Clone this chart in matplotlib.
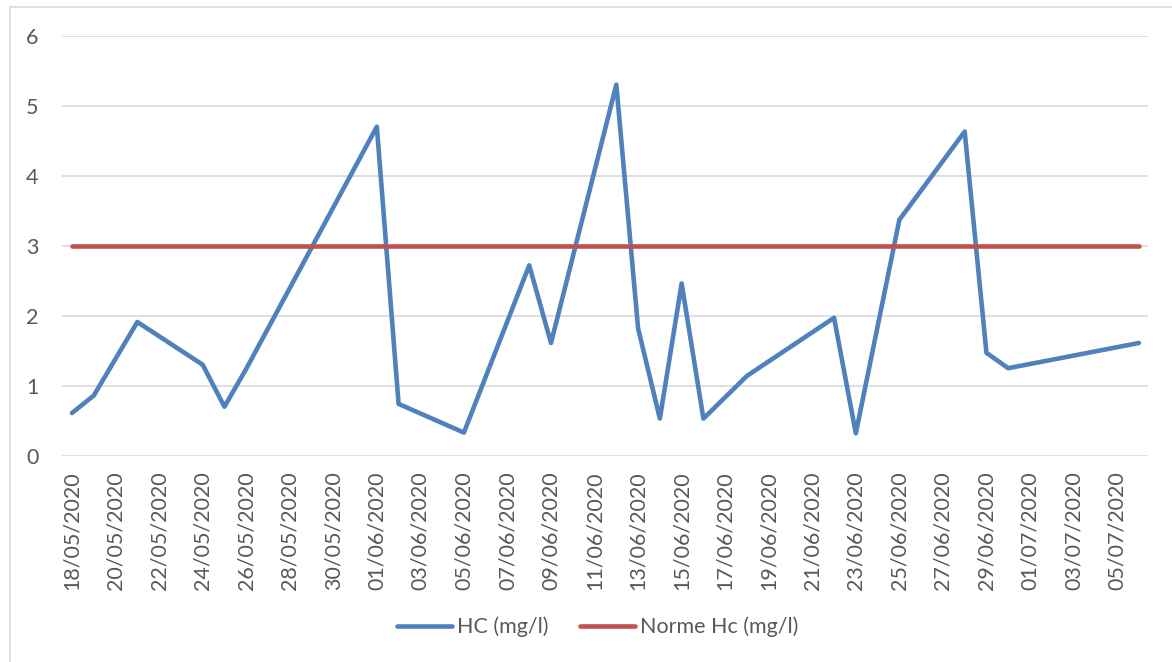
import matplotlib
matplotlib.use("Agg")
import matplotlib.pyplot as plt
import matplotlib.dates as mdates
from matplotlib.lines import Line2D
import pandas as pd

# Sampling dates and measured hydrocarbon concentrations
dates = ["18/05/2020", "19/05/2020", "21/05/2020", "24/05/2020", "25/05/2020",
         "26/05/2020", "01/06/2020", "02/06/2020", "05/06/2020", "08/06/2020",
         "09/06/2020", "12/06/2020", "13/06/2020", "14/06/2020", "15/06/2020",
         "16/06/2020", "18/06/2020", "22/06/2020", "23/06/2020", "25/06/2020",
         "28/06/2020", "29/06/2020", "30/06/2020", "06/07/2020"]
hc_values = [0.61, 0.86, 1.91, 1.30, 0.70,
             1.24, 4.70, 0.74, 0.33, 2.72,
             1.61, 5.30, 1.82, 0.53, 2.46,
             0.53, 1.14, 1.97, 0.32, 3.37,
             4.63, 1.47, 1.25, 1.61]
norme_values = [3] * len(dates)
y_ticks = [0, 1, 2, 3, 4, 5, 6]
series_labels = ["HC (mg/l)", "Norme Hc (mg/l)"]

BLUE = "#4F81BD"
RED = "#C0504D"
GRID = "#D9D9D9"
TEXT = "#595959"
FONT = "Lato"
FS = 15.5

x = pd.to_datetime(dates, format="%d/%m/%Y")

W, H = 1172, 662
fig = plt.figure(figsize=(W / 100, H / 100), dpi=100)
plt.rcParams["font.family"] = [FONT, "DejaVu Sans"]

# chart area border (left and top edges visible)
fig.add_artist(Line2D([10 / W, 10 / W], [0, 1 - 7 / H], transform=fig.transFigure,
                      color=GRID, lw=1.2))
fig.add_artist(Line2D([10 / W, 1], [1 - 7 / H, 1 - 7 / H], transform=fig.transFigure,
                      color=GRID, lw=1.2))

left, right, top, bottom = 62, 1148, 35.7, 455.7
ax = fig.add_axes([left / W, 1 - bottom / H, (right - left) / W, (bottom - top) / H])

ax.plot(x, hc_values, color=BLUE, lw=3.3, solid_joinstyle="round",
        solid_capstyle="round", zorder=3, label=series_labels[0])
ax.plot(x, norme_values, color=RED, lw=3.3, solid_capstyle="round",
        zorder=4, label=series_labels[1])

x0 = x[0]
day = pd.Timedelta(days=1)
ax.set_xlim(mdates.date2num(x0 - 0.46 * day), mdates.date2num(x0 + 49.42 * day))
ax.set_ylim(0, 6)
ax.set_yticks(y_ticks)
ax.yaxis.grid(True, color=GRID, lw=1.2)
ax.set_axisbelow(True)
for s in ax.spines.values():
    s.set_visible(False)

ax.xaxis.set_major_locator(mdates.DayLocator(interval=2))
ax.xaxis.set_major_formatter(mdates.DateFormatter("%d/%m/%Y"))
ax.tick_params(axis="x", length=0, pad=11.5, labelsize=FS, labelcolor=TEXT,
               labelrotation=90)
ax.tick_params(axis="y", length=0, pad=17, labelsize=FS, labelcolor=TEXT)
for lab in ax.get_xticklabels():
    lab.set_fontfamily([FONT, "DejaVu Sans"])
for lab in ax.get_yticklabels():
    lab.set_fontfamily([FONT, "DejaVu Sans"])

handles, labels = ax.get_legend_handles_labels()
leg = fig.legend(handles, labels, loc="center", ncol=2, frameon=False,
                 bbox_to_anchor=(597.5 / W, 1 - 627 / H),
                 prop={"family": [FONT, "DejaVu Sans"], "size": FS},
                 handlelength=2.55, handletextpad=0.25, columnspacing=1.45)
for t in leg.get_texts():
    t.set_color(TEXT)

fig.savefig("out.png", dpi=100, facecolor="white")
